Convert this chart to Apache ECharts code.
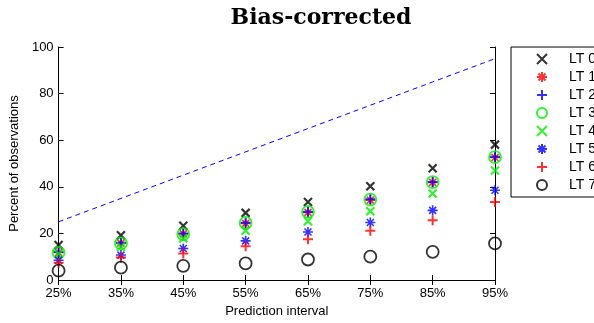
<!DOCTYPE html>
<html>
<head>
<meta charset="utf-8">
<script src="https://cdn.jsdelivr.net/npm/echarts@6/dist/echarts.min.js"></script>
<style>
  html, body { margin: 0; padding: 0; background: #fff; }
  #chart { width: 594px; height: 323px; }
</style>
</head>
<body>
<div id="chart"></div>
<script>
// Prediction intervals on the x axis
const categories = ['25%', '35%', '45%', '55%', '65%', '75%', '85%', '95%'];
// Nominal coverage (perfect-calibration reference line)
const nominal = [25, 35, 45, 55, 65, 75, 85, 95];
// Observed coverage per lead time (percent of observations)
const lt0 = [15.0, 19.2, 23.3, 28.8, 33.5, 40.2, 48.0, 58.1];
const lt1 = [11.8, 15.8, 19.8, 24.3, 29.0, 34.3, 41.9, 52.6];
const lt2 = [12.0, 16.0, 20.0, 24.6, 29.3, 34.7, 42.1, 52.9];
const lt3 = [11.7, 15.7, 19.7, 24.5, 29.2, 34.5, 42.0, 52.7];
const lt4 = [11.2, 14.3, 17.8, 21.1, 25.2, 29.5, 37.1, 47.0];
const lt5 = [8.5, 10.7, 13.5, 16.8, 20.6, 24.7, 29.9, 38.5];
const lt6 = [7.4, 9.7, 11.4, 14.5, 17.5, 21.1, 25.6, 33.5];
const lt7 = [4.0, 5.3, 6.1, 7.1, 8.8, 10.0, 12.1, 15.7];
const yTicks = [0, 20, 40, 60, 80, 100];

// Marker shapes drawn as stroked outlines
const SYM = {
  cross: 'path://M0,0L10,10M10,0L0,10',
  plus: 'path://M5,0L5,10M0,5L10,5',
  star: 'path://M5,0L5,10M0,5L10,5M1.5,1.5L8.5,8.5M8.5,1.5L1.5,8.5',
  ring: 'path://M10,5A5,5 0 1 1 0,5A5,5 0 1 1 10,5Z'
};

function markerSeries(name, data, symbol, color, size, width) {
  return {
    name: name,
    type: 'scatter',
    data: data,
    symbol: symbol,
    symbolSize: size,
    itemStyle: { color: 'rgba(0,0,0,0)', borderColor: color, borderWidth: width },
    emphasis: { disabled: true },
    z: 3
  };
}

const chart = echarts.init(document.getElementById('chart'), null, { renderer: 'canvas' });

const axisFont = { fontFamily: 'Liberation Sans', fontSize: 13, color: '#000' };

chart.setOption({
  animation: false,
  backgroundColor: '#fff',
  title: {
    text: 'Bias-corrected',
    left: 316,
    top: 2,
    textAlign: 'center',
    textStyle: { fontFamily: 'DejaVu Serif', fontWeight: 'bold', fontSize: 22, color: '#000' }
  },
  grid: { left: 51, right: 99, top: 47, bottom: 43 },
  legend: {
    orient: 'vertical',
    left: 511,
    top: 47,
    padding: [5, 60, 5, 25],
    itemWidth: 10,
    itemHeight: 10,
    itemGap: 4,
    borderColor: '#000',
    borderWidth: 1,
    backgroundColor: '#fff',
    textStyle: {
      fontFamily: 'Liberation Sans', fontSize: 14, color: '#000',
      lineHeight: 14, padding: [0, 0, 0, 17]
    },
    data: ['LT 0', 'LT 1', 'LT 2', 'LT 3', 'LT 4', 'LT 5', 'LT 6', 'LT 7']
  },
  xAxis: [
    {
      type: 'category',
      data: categories,
      boundaryGap: false,
      name: 'Prediction interval',
      nameLocation: 'middle',
      nameGap: 25,
      nameTextStyle: axisFont,
      axisLine: { lineStyle: { color: '#000', width: 1 } },
      axisTick: { inside: true, length: 5, alignWithLabel: true, lineStyle: { color: '#000' } },
      axisLabel: Object.assign({ margin: 7 }, axisFont),
      splitLine: { show: false }
    },
    {
      type: 'category',
      data: categories,
      boundaryGap: false,
      position: 'top',
      axisLine: { lineStyle: { color: '#000', width: 1 } },
      axisTick: { inside: true, length: 5, lineStyle: { color: '#000' } },
      axisLabel: { show: false },
      splitLine: { show: false }
    }
  ],
  yAxis: [
    {
      type: 'value',
      min: yTicks[0],
      max: yTicks[yTicks.length - 1],
      interval: 20,
      name: 'Percent of observations',
      nameLocation: 'middle',
      nameGap: 31,
      nameTextStyle: axisFont,
      axisLine: { show: true, lineStyle: { color: '#000', width: 1 } },
      axisTick: { show: true, inside: true, length: 5, lineStyle: { color: '#000' } },
      axisLabel: Object.assign({ margin: 5 }, axisFont),
      splitLine: { show: false }
    },
    {
      type: 'value',
      min: yTicks[0],
      max: yTicks[yTicks.length - 1],
      interval: 20,
      position: 'right',
      axisLine: { show: true, lineStyle: { color: '#000', width: 1 } },
      axisTick: { show: true, inside: true, length: 5, lineStyle: { color: '#000' } },
      axisLabel: { show: false },
      splitLine: { show: false }
    }
  ],
  series: [
    {
      name: 'nominal',
      type: 'line',
      data: nominal,
      symbol: 'none',
      lineStyle: { color: '#0000ff', width: 1, type: [5, 4] },
      emphasis: { disabled: true },
      z: 2
    },
    markerSeries('LT 0', lt0, SYM.cross, '#000000', 8, 2.2),
    markerSeries('LT 1', lt1, SYM.star, '#ff0000', 10, 1.6),
    markerSeries('LT 2', lt2, SYM.plus, '#0000ff', 10, 2),
    markerSeries('LT 3', lt3, SYM.ring, '#00ee00', 12, 1.8),
    markerSeries('LT 4', lt4, SYM.cross, '#00ee00', 8, 2.2),
    markerSeries('LT 5', lt5, SYM.star, '#0000ff', 10, 1.6),
    markerSeries('LT 6', lt6, SYM.plus, '#ff0000', 10, 2),
    markerSeries('LT 7', lt7, SYM.ring, '#000000', 12, 1.8)
  ]
});
</script>
</body>
</html>
